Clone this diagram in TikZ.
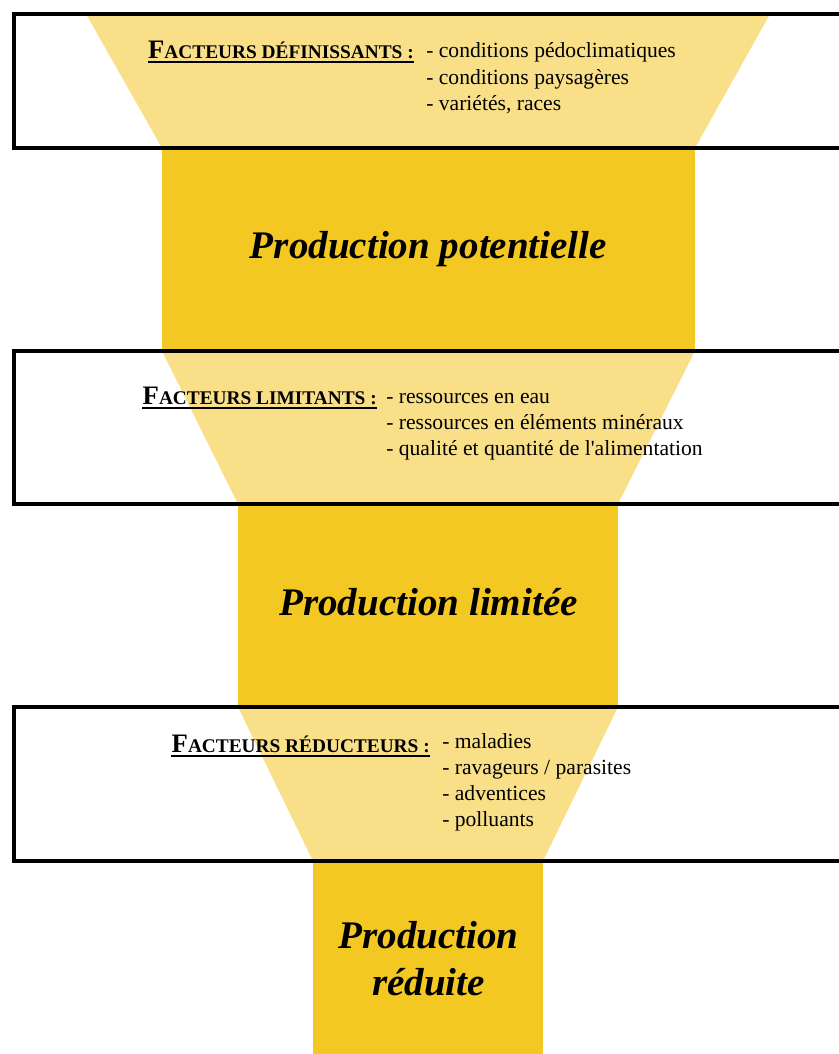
\documentclass[tikz,border=0pt]{standalone}
\usepackage{fontspec}
\setmainfont{Liberation Serif}
\definecolor{pale}{HTML}{F8DF88}
\definecolor{gold}{HTML}{F4C823}
\newcommand{\facteur}[2]{{\fontsize{20}{24}\selectfont\bfseries #1}{\fontsize{14.5}{17}\selectfont\bfseries #2}}

\begin{document}
\begin{tikzpicture}[x=0.75pt, y=-0.75pt,
  item/.style = {anchor=base west, inner sep=0pt, font=\fontsize{16.2}{19}\selectfont},
  head/.style = {anchor=base east, inner sep=0pt},
  prod/.style = {anchor=base, inner sep=0pt, font=\fontsize{29.3}{34}\selectfont\bfseries\itshape},
  cadre/.style = {line width=3pt}]
\useasboundingbox (0,0) rectangle (839,1054);
% funnel
\fill [pale] (86,14) -- (770,14) -- (695,148) -- (162,148) -- cycle;
\fill [gold] (162,148) rectangle (695,351);
\fill [pale] (162,351) -- (695,351) -- (618,504) -- (238,504) -- cycle;
\fill [gold] (238,504) rectangle (618,707);
\fill [pale] (238,707) -- (618,707) -- (543,861) -- (313,861) -- cycle;
\fill [gold] (313,861) rectangle (543,1054);
% frames
\draw [cadre] (870,14) -- (14,14) -- (14,148) -- (870,148);
\draw [cadre] (870,351) -- (14,351) -- (14,504) -- (870,504);
\draw [cadre] (870,707) -- (14,707) -- (14,861) -- (870,861);
% facteurs definissants
\node [head] (h1) at (414,58) {\facteur{F}{ACTEURS DÉFINISSANTS :}};
\draw [line width=2pt] ([yshift=-3pt]h1.base west) -- ([yshift=-3pt]h1.base east);
\node [item] (d1) at (426,57) {- conditions pédoclimatiques};
\node [item] (d2) at (426,84) {- conditions paysagères};
\node [item] (d3) at (426,110) {- variétés, races};
\node [prod] (p1) at (428.5,258) {Production potentielle};
% facteurs limitants
\node [head] (h2) at (377,404) {\facteur{F}{ACTEURS LIMITANTS :}};
\draw [line width=2pt] ([yshift=-3pt]h2.base west) -- ([yshift=-3pt]h2.base east);
\node [item] (l1) at (386,403) {- ressources en eau};
\node [item] (l2) at (386,429) {- ressources en éléments minéraux};
\node [item] (l3) at (386,455) {- qualité et quantité de l\textquotesingle alimentation};
\node [prod] (p2) at (428.5,615) {Production limitée};
% facteurs reducteurs
\node [head] (h3) at (430,752) {\facteur{F}{ACTEURS RÉDUCTEURS :}};
\draw [line width=2pt] ([yshift=-3pt]h3.base west) -- ([yshift=-3pt]h3.base east);
\node [item] (r1) at (442,748) {- maladies};
\node [item] (r2) at (442,774) {- ravageurs / parasites};
\node [item] (r3) at (442,800) {- adventices};
\node [item] (r4) at (442,826) {- polluants};
\node [prod] (p3) at (428.5,948) {Production};
\node [prod] (p4) at (428.5,995) {réduite};
\end{tikzpicture}
\end{document}
